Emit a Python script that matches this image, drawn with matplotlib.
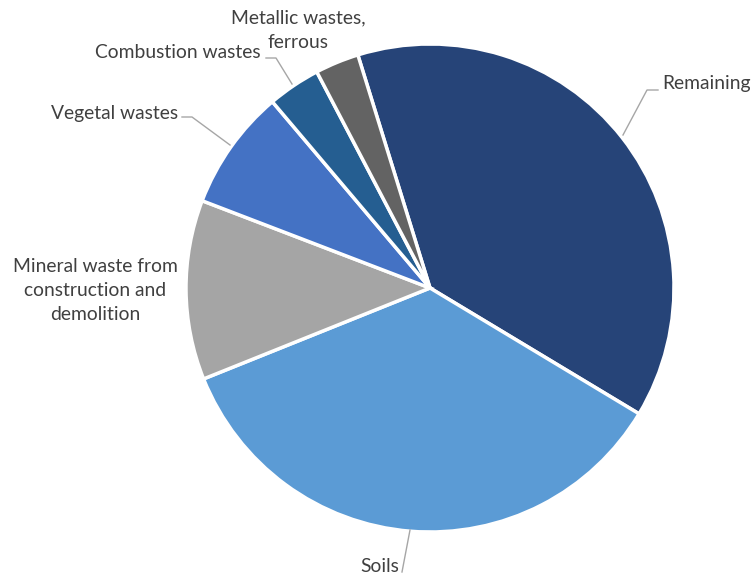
import matplotlib.pyplot as plt

plt.rcParams['font.family'] = ['Lato', 'DejaVu Sans']

categories = ['Remaining', 'Soils', 'Mineral waste from\nconstruction and\ndemolition',
              'Vegetal wastes', 'Combustion wastes', 'Metallic wastes,\nferrous']
shares = [38.4, 35.3, 11.9, 8.0, 3.5, 2.9]
colors = ['#264478', '#5B9BD5', '#A5A5A5', '#4472C4', '#255E91', '#636363']

W, H = 755, 577
fig = plt.figure(figsize=(W / 100, H / 100), dpi=100)
ax = fig.add_axes([0, 0, 1, 1])

cx, cy, r = 430, H - 288, 244
ax.pie(shares, colors=colors, startangle=107.2, counterclock=False,
       center=(cx, cy), radius=r, frame=True,
       wedgeprops=dict(edgecolor='white', linewidth=2.5))
ax.set_xlim(0, W)
ax.set_ylim(0, H)
ax.set_aspect('equal')
ax.axis('off')

txt = dict(color='#404040', fontsize=13.9)
# label positions in pixel coords (y from top)
labels = [
    (662, 84, 'left', 'center'),
    (380, 566, 'center', 'center'),
    (95, 291, 'center', 'center'),
    (178, 114, 'right', 'center'),
    (261, 52, 'right', 'center'),
    (298, 30, 'center', 'center'),
]
for name, (x, y, ha, va) in zip(categories, labels):
    ax.text(x, H - y, name, ha=ha, va=va, linespacing=1.5, **txt)

leaders = [
    [(658, 90), (647, 90), (623, 135)],
    [(410, 530), (402, 572)],
    [(182, 117), (192, 117), (230, 145)],
    [(266, 58), (276, 58), (292, 84)],
]
for pts in leaders:
    xs = [p[0] for p in pts]
    ys = [H - p[1] for p in pts]
    ax.plot(xs, ys, color='#A6A6A6', linewidth=1)

fig.savefig('out.png', dpi=100)
